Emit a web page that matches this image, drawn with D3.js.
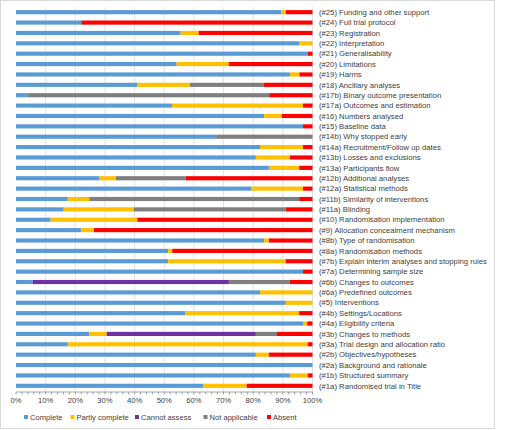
<!DOCTYPE html>
<html>
<head>
<meta charset="utf-8">
<script src="https://cdn.jsdelivr.net/npm/d3@7"></script>
<style>
  body { margin: 0; background: #fff; }
  svg text { font-family: "Liberation Sans", Arial, sans-serif; fill: #404040; }
</style>
</head>
<body>
<svg id="chart" width="514" height="430"></svg>
<script>
// items, top to bottom
let items = [
    '(#25) Funding and other support', '(#24) Full trial protocol', '(#23) Registration',
    '(#22) Interpretation', '(#21) Generalisability', '(#20) Limitations', '(#19) Harms',
    '(#18) Ancillary analyses', '(#17b) Binary outcome presentation', '(#17a) Outcomes and estimation',
    '(#16) Numbers analysed', '(#15) Baseline data', '(#14b) Why stopped early',
    '(#14a) Recruitment/Follow up dates', '(#13b) Losses and exclusions', '(#13a) Participants flow',
    '(#12b) Additional analyses', '(#12a) Statistical methods', '(#11b) Similarity of interventions',
    '(#11a) Blinding', '(#10) Randomisation implementation', '(#9) Allocation concealment mechanism',
    '(#8b) Type of randomisation', '(#8a) Randomisation methods',
    '(#7b) Explain interim analyses and stopping rules', '(#7a) Determining sample size',
    '(#6b) Changes to outcomes', '(#6a) Predefined outcomes', '(#5) Interventions',
    '(#4b) Settings/Locations', '(#4a) Eligibility criteria', '(#3b) Changes to methods',
    '(#3a) Trial design and allocation ratio', '(#2b) Objectives/hypotheses',
    '(#2a) Background and rationale', '(#1b) Structured summary', '(#1a) Randomised trial in Title'
];
let series = ['Complete', 'Partly complete', 'Cannot assess', 'Not applicable', 'Absent'];
let colors = ['#5B9BD5', '#FFC000', '#7030A0', '#7F7F7F', '#FF0000'];

// percentages per item (same order as items)
let complete      = [89.5, 22, 55.5, 95.6, 98.4, 54.2, 92.4, 41, 4, 52.6, 83.7, 96.8, 67.5, 82.3, 80.9, 85.3, 28, 79.3, 17.5, 16.1, 11.7, 21.9, 83.7, 51.3, 51.3, 96.8, 5.7, 82.3, 91, 57.2, 96.8, 24.7, 17.5, 80.9, 100, 92.4, 63.2];
let partly        = [1.5, 0, 6.1, 4.4, 0, 17.6, 3.2, 17.7, 0, 44.2, 5.9, 0, 0, 14.5, 11.5, 10.2, 5.7, 17.5, 7.2, 23.6, 29.2, 4.4, 1.6, 1.4, 39.7, 0, 0, 17.7, 9, 38.3, 1.4, 5.9, 80.9, 4.4, 0, 6, 14.6];
let cannotAssess  = [0, 0, 0, 0, 0, 0, 0, 0, 0, 0, 0, 0, 0, 0, 0, 0, 0, 0, 0, 0, 0, 0, 0, 0, 0, 0, 66.1, 0, 0, 0, 0, 50.3, 0, 0, 0, 0, 0];
let notApplicable = [0, 0, 0, 0, 0, 0, 0, 24.9, 81.4, 0, 0, 0, 32.5, 0, 0, 0, 23.5, 0, 70.8, 51.3, 0, 0, 0, 0, 0, 0, 20.6, 0, 0, 0, 0, 7.1, 0, 0, 0, 0, 0];
let absent        = [9, 78, 38.4, 0, 1.6, 28.2, 4.4, 16.4, 14.6, 3.2, 10.4, 3.2, 0, 3.2, 7.6, 4.5, 42.8, 3.2, 4.5, 9, 59.1, 73.7, 14.7, 47.3, 9, 3.2, 7.6, 0, 0, 4.5, 1.8, 12, 1.6, 14.7, 0, 1.6, 22.2];

let xTicks = [0, 10, 20, 30, 40, 50, 60, 70, 80, 90, 100];

let rows = items.map((name, i) => {
    let vals = [complete[i], partly[i], cannotAssess[i], notApplicable[i], absent[i]];
    let tot = d3.sum(vals);
    let r = { name: name };
    series.forEach((s, j) => r[s] = vals[j] / tot * 100);
    return r;
});

let svg = d3.select('#chart');

// outer chart border
svg.append('rect')
    .attr('x', 0.5).attr('y', 0.5)
    .attr('width', 494).attr('height', 428)
    .attr('fill', 'none')
    .attr('stroke', '#D9D9D9');

let x = d3.scaleLinear().domain([0, 100]).range([16, 312.5]);
let y = d3.scaleBand().domain(items).range([7, 391]).paddingInner(0.6).paddingOuter(0.3);

// gridlines
svg.append('g')
    .selectAll('line')
    .data(xTicks.slice(1))
    .join('line')
    .attr('x1', d => x(d)).attr('x2', d => x(d))
    .attr('y1', 7).attr('y2', 392)
    .attr('stroke', '#D9D9D9')
    .attr('stroke-width', 0.75);

// stacked bars
let stacked = d3.stack().keys(series)(rows);
svg.append('g')
    .selectAll('g')
    .data(stacked)
    .join('g')
    .attr('fill', (d, i) => colors[i])
    .selectAll('rect')
    .data(d => d)
    .join('rect')
    .attr('x', d => x(d[0]))
    .attr('width', d => Math.max(0, x(d[1]) - x(d[0])))
    .attr('y', d => y(d.data.name))
    .attr('height', y.bandwidth());

// x axis with minor ticks
let axis = svg.append('g').attr('transform', 'translate(0,392)');
axis.append('line')
    .attr('x1', x(0)).attr('x2', x(100))
    .attr('stroke', '#868686').attr('stroke-width', 0.75);
axis.selectAll('line.minor')
    .data(d3.range(0, 101, 2))
    .join('line')
    .attr('class', 'minor')
    .attr('x1', d => x(d)).attr('x2', d => x(d))
    .attr('y1', 0).attr('y2', 2.5)
    .attr('stroke', '#868686').attr('stroke-width', 0.75);
axis.selectAll('text')
    .data(xTicks)
    .join('text')
    .attr('x', d => x(d))
    .attr('y', 11)
    .attr('text-anchor', 'middle')
    .attr('font-size', '7.6px')
    .text(d => d + '%');

// category labels on the right
svg.append('g')
    .selectAll('text')
    .data(items)
    .join('text')
    .attr('x', 319)
    .attr('y', d => y(d) + y.bandwidth() / 2)
    .attr('dy', '0.35em')
    .attr('font-size', '7.7px')
    .text(d => d);

// legend
let legendX = [26, 72.5, 137, 205.5, 269];
let legend = svg.append('g')
    .selectAll('g')
    .data(series)
    .join('g')
    .attr('transform', (d, i) => `translate(${legendX[i]},417)`);
legend.append('rect')
    .attr('x', -2).attr('y', -2)
    .attr('width', 4).attr('height', 4)
    .attr('fill', (d, i) => colors[i]);
legend.append('text')
    .attr('x', 4)
    .attr('dy', '0.35em')
    .attr('font-size', '7.6px')
    .text(d => d);
</script>
</body>
</html>
